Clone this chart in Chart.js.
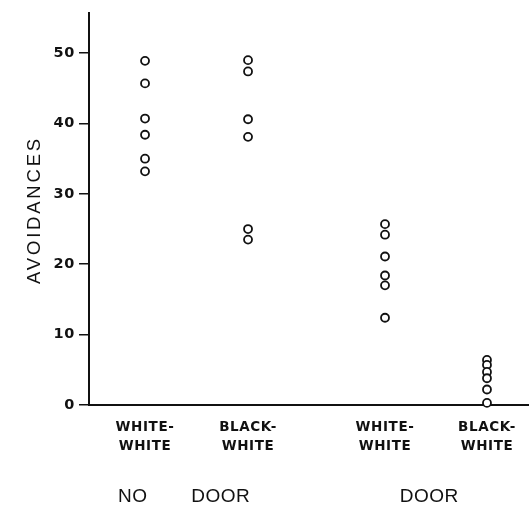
<!DOCTYPE html>
<html>
<head>
<meta charset="utf-8">
<script src="https://cdn.jsdelivr.net/npm/chart.js@4"></script>
<style>
  html, body { margin: 0; padding: 0; background: #fff; }
  #wrap { width: 529px; height: 506px; }
</style>
</head>
<body>
<div id="wrap"><canvas id="graph"></canvas></div>
<script>
// conditions along the x axis
const categories = ['WHITE-WHITE', 'BLACK-WHITE', 'WHITE-WHITE', 'BLACK-WHITE'];
// where each condition sits on the x scale (two groups with a gap between)
const categoryPos = [1, 2, 3.33, 4.32];
const groupLabels = ['NO DOOR', 'DOOR'];
const groupLabelPos = [1.38, 3.76];

// avoidances per animal
const noDoorWhiteWhite = [48.9, 45.7, 40.7, 38.4, 35.0, 33.2];
const noDoorBlackWhite = [49.0, 47.4, 40.6, 38.1, 25.0, 23.5];
const doorWhiteWhite = [25.7, 24.2, 21.1, 18.4, 17.0, 12.4];
const doorBlackWhite = [6.4, 5.7, 4.7, 3.8, 2.2, 0.3];

const yTicks = [0, 10, 20, 30, 40, 50];

const series = [noDoorWhiteWhite, noDoorBlackWhite, doorWhiteWhite, doorBlackWhite];
const ink = '#111';

const datasets = series.map((vals, i) => ({
    label: categories[i],
    data: vals.map(v => ({ x: categoryPos[i], y: v })),
    pointRadius: 4,
    pointBorderWidth: 1.8,
    pointBorderColor: ink,
    pointBackgroundColor: '#fff',
    clip: false
}));

// extra text: y title with wide lettering, group names under the axis
const extraText = {
    id: 'extraText',
    beforeDraw(chart) {
        chart.ctx.letterSpacing = '0.6px';
    },
    beforeDatasetsDraw(chart) {
        chart.ctx.letterSpacing = '0px';
    },
    afterDraw(chart) {
        const ctx = chart.ctx;
        const x = chart.scales.x;
        const y = chart.scales.y;
        ctx.save();
        ctx.fillStyle = ink;

        // axis title
        ctx.font = '18.5px "Liberation Sans", Arial, sans-serif';
        ctx.letterSpacing = '2.8px';
        ctx.textAlign = 'center';
        ctx.textBaseline = 'middle';
        ctx.translate(35, (y.top + y.bottom) / 2 + 1);
        ctx.rotate(-Math.PI / 2);
        ctx.fillText('AVOIDANCES', 0, 0);
        ctx.setTransform(1, 0, 0, 1, 0, 0);

        // group names
        ctx.font = '19px "Liberation Sans", Arial, sans-serif';
        ctx.letterSpacing = '0.5px';
        ctx.wordSpacing = '38px';
        ctx.textBaseline = 'alphabetic';
        groupLabels.forEach((txt, i) => {
            ctx.fillText(txt, x.getPixelForValue(groupLabelPos[i]), 502);
        });
        ctx.restore();
    }
};

new Chart(document.querySelector('#graph'), {
    type: 'scatter',
    data: { datasets: datasets },
    options: {
        responsive: true,
        maintainAspectRatio: false,
        animation: false,
        events: [],
        layout: { autoPadding: false, padding: { top: 13, left: 0, right: 0, bottom: 0 } },
        plugins: {
            legend: { display: false },
            tooltip: { enabled: false }
        },
        scales: {
            x: {
                type: 'linear',
                min: 0.456,
                max: 4.728,
                afterBuildTicks: (scale) => {
                    scale.ticks = categoryPos.map(v => ({ value: v }));
                },
                afterFit: (scale) => { scale.height = 101; },
                grid: { display: false, drawTicks: false },
                border: { display: true, color: ink, width: 2 },
                ticks: {
                    autoSkip: false,
                    maxRotation: 0,
                    padding: 13,
                    color: ink,
                    font: { family: '"DejaVu Sans", sans-serif', size: 13.5, weight: 'bold', lineHeight: 1.4 },
                    callback: (value, index) => categories[index].replace('-', '-\n').split('\n')
                }
            },
            y: {
                min: 0,
                max: 55.7,
                afterBuildTicks: (scale) => {
                    scale.ticks = yTicks.map(v => ({ value: v }));
                },
                afterFit: (scale) => { scale.width = 89; },
                grid: {
                    drawOnChartArea: false,
                    drawTicks: true,
                    tickLength: 10,
                    color: ink,
                    lineWidth: 1.5
                },
                border: { display: true, color: ink, width: 2 },
                ticks: {
                    padding: 4,
                    color: ink,
                    font: { family: '"DejaVu Sans", sans-serif', size: 14.5, weight: 'bold' }
                }
            }
        }
    },
    plugins: [extraText]
});
</script>
</body>
</html>
